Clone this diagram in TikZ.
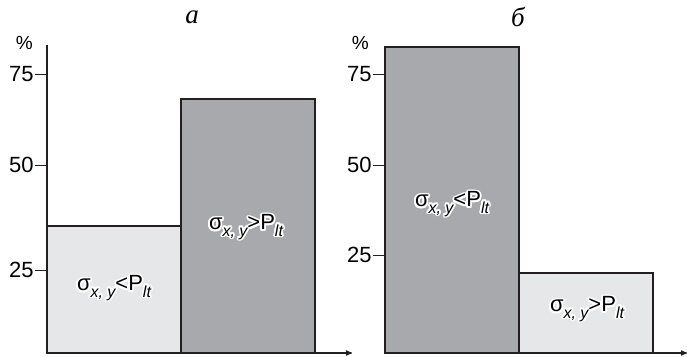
\documentclass[tikz,border=0pt]{standalone}
\usepackage{fontspec}
\setmainfont{Liberation Sans}
\newfontfamily\titlefont{Liberation Serif}
\usepackage{contour}
\contourlength{1.8pt}
\usetikzlibrary{arrows,positioning}
\definecolor{barlight}{HTML}{E6E7E8}
\definecolor{bardark}{HTML}{A7A9AC}
\definecolor{ink}{HTML}{231F20}
\newcommand{\lowsub}[1]{\raisebox{-0.28em}{\fontsize{16}{16}\selectfont\itshape #1}}
\newcommand{\sxy}{σ\lowsub{x, y}}
\newcommand{\plt}{P\lowsub{lt}}
\begin{document}
\begin{tikzpicture}[x=1pt,y=-1pt,>=stealth',
  bar/.style={draw=ink,line width=1.8pt},
  axis/.style={draw=ink,line width=1.2pt},
  tickmark/.style={draw=ink,line width=0.9pt},
  ticklabel/.style={anchor=east,inner sep=0pt,font=\fontsize{22}{22}\selectfont},
  barlabel/.style={inner sep=0pt,font=\fontsize{22}{22}\selectfont},
  paneltitle/.style={inner sep=0pt,font=\titlefont\itshape\fontsize{27}{27}\selectfont}]
\useasboundingbox (0,0) rectangle (687,356);
  \coordinate (Oa) at (47,353);
  \coordinate (Ob) at (385,353);
  \node[paneltitle]     (Ta)  at (192,17)   {a};
  \node[paneltitle]     (Tb)  at (518,17)   {б};
  \node[ticklabel]      (Pa)  at (33,43)    {\fontsize{19}{19}\selectfont\%};
  \node[ticklabel]      (Pb)  at (369,43)   {\fontsize{19}{19}\selectfont\%};
\path[bar,fill=barlight] (47,353) rectangle (181,226);
\path[bar,fill=bardark]  (181,353) rectangle (315,99);
\path[bar,fill=bardark]  (385,353) rectangle (519,47);
\path[bar,fill=barlight] (519,353) rectangle (653,273);
  \node[barlabel]       (La1) at (114,289)  {\contour{white}{\sxy<\plt}};
  \node[barlabel]       (La2) at (246,228)  {\contour{white}{\sxy>\plt}};
  \node[barlabel]       (Lb1) at (452,205)  {\contour{white}{\sxy<\plt}};
  \node[barlabel]       (Lb2) at (587,310)  {\contour{white}{\sxy>\plt}};
\path[axis] (Oa) -- (47,45);
\path[axis,->] (Oa) -- (352,353);
\path[axis] (Ob) -- (385,47);
\path[axis,->] (Ob) -- (687,353);
\foreach \val/\ypos in {75/74,50/165,25/270}
  \path[tickmark] (35,\ypos) -- (47,\ypos) node[ticklabel,pos=0,left=1pt] {\val};
\foreach \val/\ypos in {75/74,50/165,25/255}
  \path[tickmark] (373,\ypos) -- (385,\ypos) node[ticklabel,pos=0,left=1pt] {\val};
\end{tikzpicture}
\end{document}
